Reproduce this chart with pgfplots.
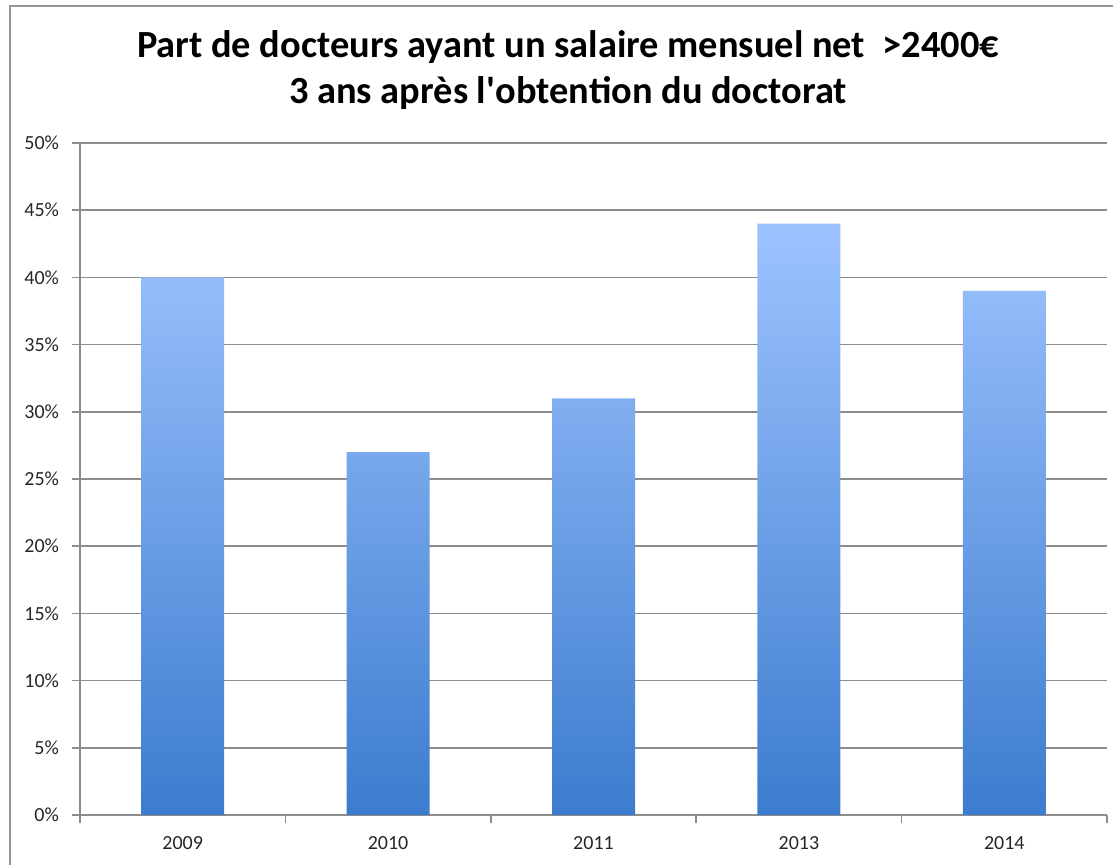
\documentclass[border=0pt]{standalone}
\usepackage{pgfplots}
\pgfplotsset{compat=1.18}
\usepackage{fontspec}
\setmainfont{Carlito}
\definecolor{gridgray}{RGB}{140,140,140}
\definecolor{bartop}{RGB}{157,195,255}
\definecolor{barbot}{RGB}{60,124,206}
\definecolor{framegray}{RGB}{150,150,150}
\begin{document}
\begin{tikzpicture}
\useasboundingbox (-40pt,-25pt) rectangle (516.5pt,407.5pt);
\draw[framegray, line width=1pt] (-35pt,-30pt) -- (-35pt,404.5pt) -- (520pt,404.5pt);
\begin{axis}[
  at={(0,0)}, anchor=south west,
  scale only axis, width=513.5pt, height=336pt,
  xmin=-0.5, xmax=4.5, ymin=0, ymax=50,
  axis x line*=bottom, axis y line*=left,
  axis line style={gridgray, line width=0.8pt, -},
  xtick={0,1,2,3,4},
  xticklabels={2009,2010,2011,2013,2014},
  minor xtick={-0.5,0.5,1.5,2.5,3.5,4.5},
  major x tick style={draw=none},
  minor x tick style={gridgray, line width=0.8pt},
  minor tick length=4pt,
  ytick={0,5,...,50},
  yticklabel={\pgfmathprintnumber{\tick}\%},
  y tick style={gridgray, line width=0.8pt},
  major tick length=4pt,
  tick align=outside,
  ymajorgrids,
  grid style={gridgray, line width=0.8pt},
  /pgf/number format/assume math mode=true,
  tick label style={font=\fontsize{10}{12}\selectfont, text=black!85},
  xticklabel style={yshift=-3pt},
  yticklabel style={xshift=-3pt},
  clip=false,
]
\addplot[ybar, bar width=41.5pt, draw=none, top color=bartop, bottom color=barbot]
  coordinates {(0,40) (1,27) (2,31) (3,44) (4,39)};
\end{axis}
\node[font=\bfseries\fontsize{19.2}{23}\selectfont] at (244pt,384pt) {Part de docteurs ayant un salaire mensuel net\ \ >2400€};
\node[font=\bfseries\fontsize{19.2}{23}\selectfont] at (244pt,361pt) {3 ans après l\textquotesingle obtention du doctorat};
\end{tikzpicture}
\end{document}
